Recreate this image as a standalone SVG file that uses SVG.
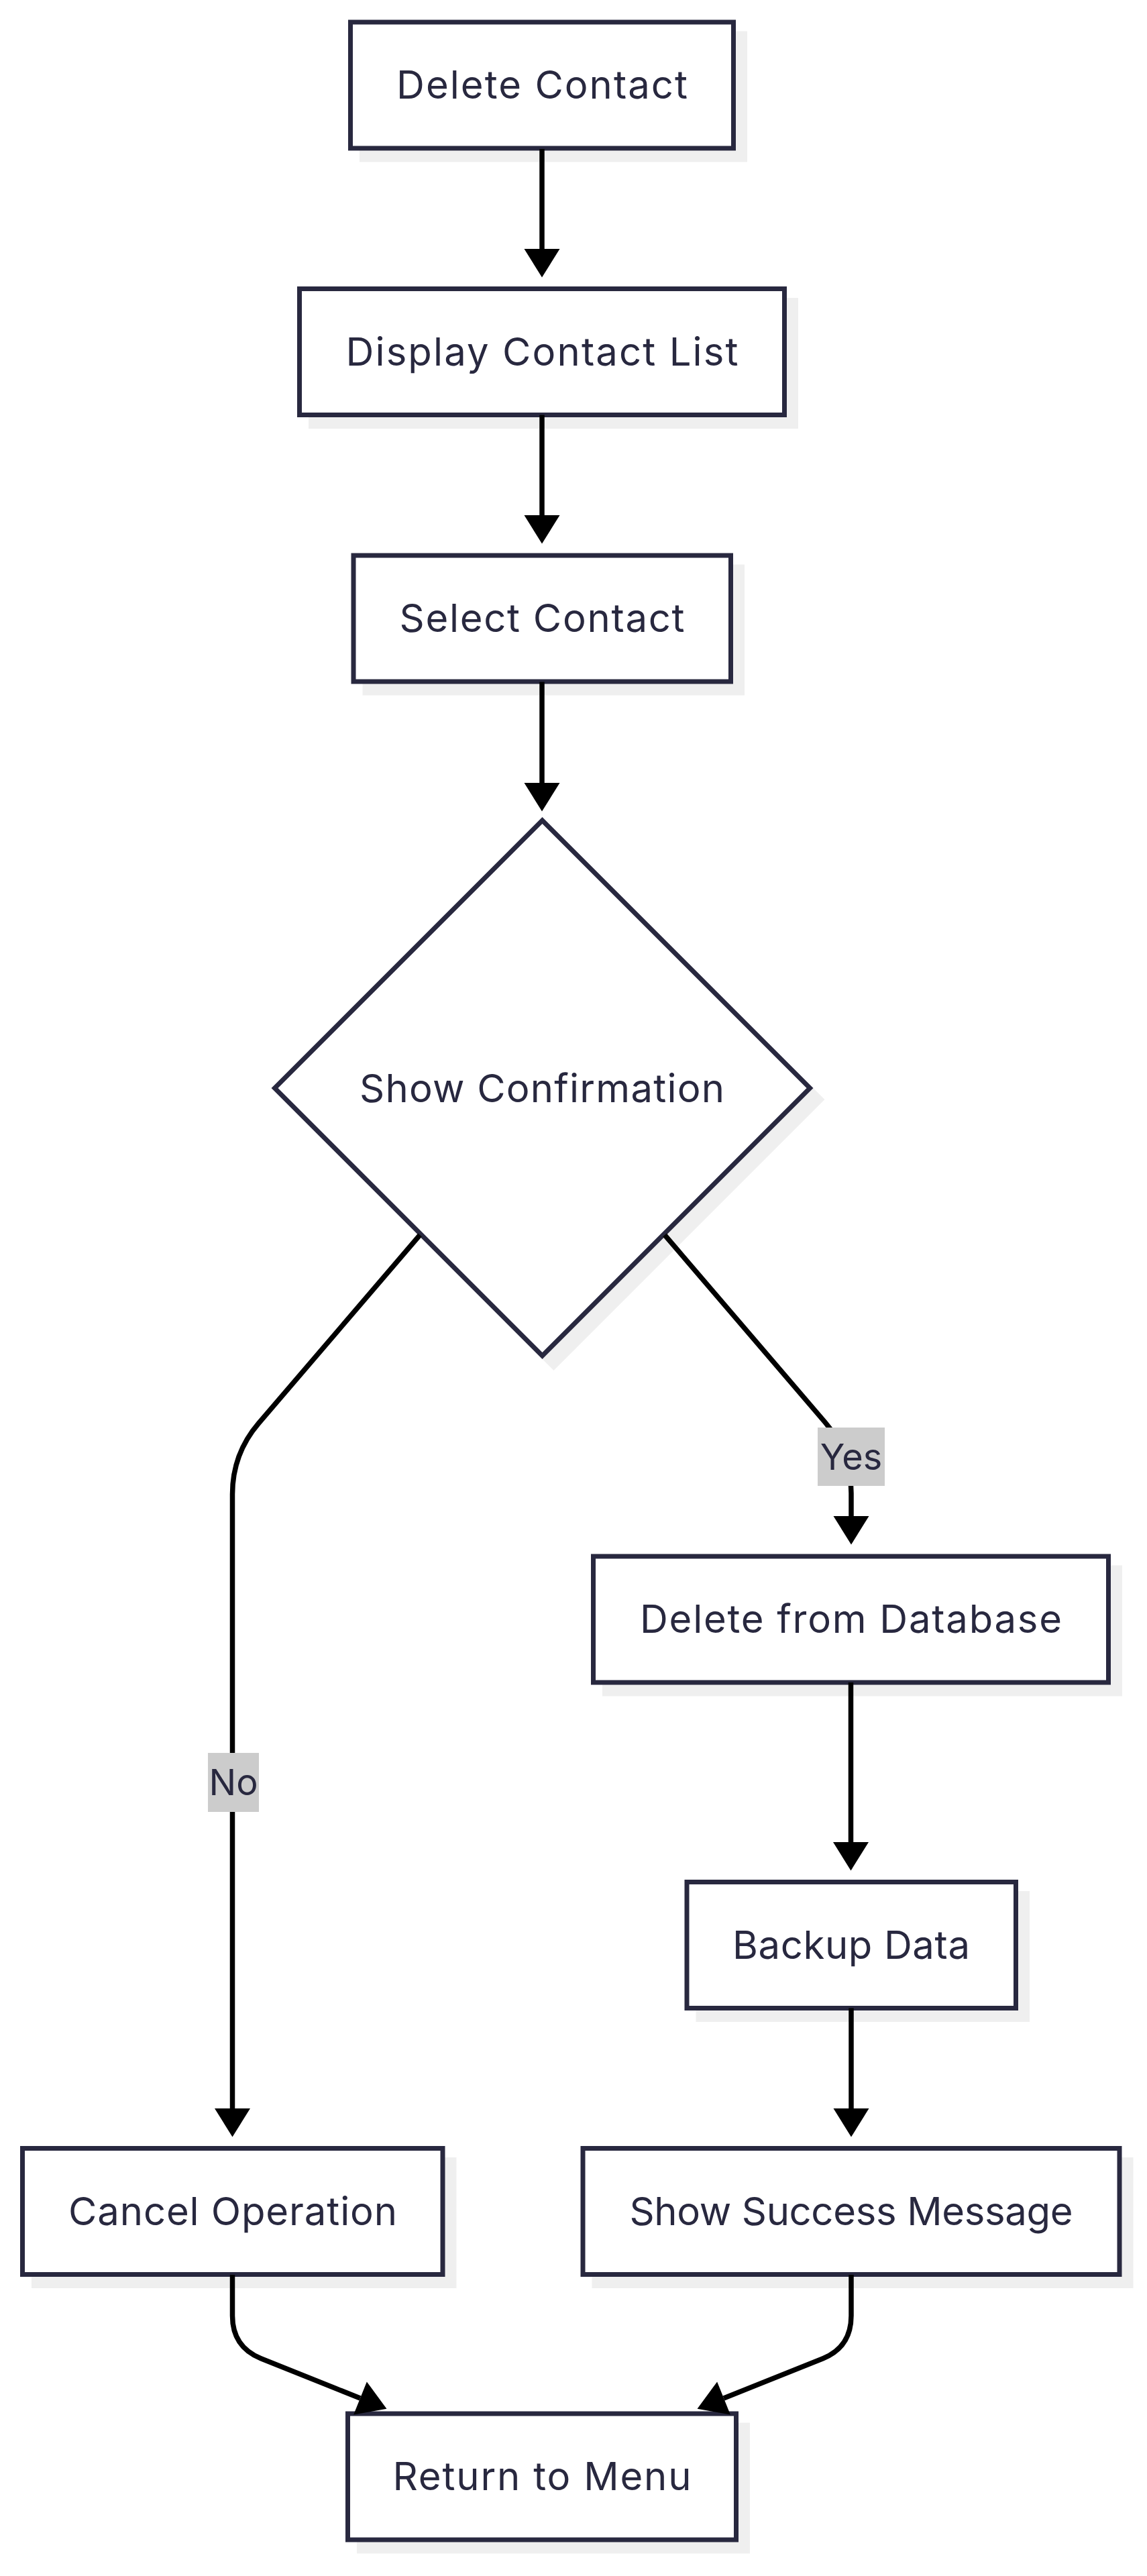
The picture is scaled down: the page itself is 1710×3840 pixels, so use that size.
<svg xmlns="http://www.w3.org/2000/svg" width="1710" height="3840" viewBox="0 0 1710 3840">
<defs>
<style>
.bg{fill:#ffffff}
.shadow{fill:#efefef;stroke:#efefef;stroke-width:7}
.box{fill:#ffffff;stroke:#28283f;stroke-width:7}
.lbl{font-family:Inter,"Noto Sans","Liberation Sans",sans-serif;font-size:58px;fill:#28283f;text-anchor:middle}
.elbl{font-family:Inter,"Noto Sans","Liberation Sans",sans-serif;font-size:54px;fill:#28283f;text-anchor:middle}
.edge{fill:none;stroke:#000000;stroke-width:7.5}
.ebg{fill:#cccccc}
</style>
<marker id="arrow" markerUnits="userSpaceOnUse" markerWidth="44" markerHeight="54" refX="0" refY="26.5" orient="auto" overflow="visible">
<path d="M0,0 L42.5,26.5 L0,53 z" fill="#000000"/>
</marker>
</defs>
<rect class="bg" x="0" y="0" width="1710" height="3840"/>

<g id="node-delete-contact">
<rect class="shadow" x="539.5" y="50" width="571" height="188"/>
<rect class="box" x="522.5" y="33" width="571" height="188"/>
<text class="lbl" x="808" y="147" textLength="434" lengthAdjust="spacing">Delete Contact</text>
</g>

<g id="node-display-list">
<rect class="shadow" x="463.5" y="447.5" width="723" height="188"/>
<rect class="box" x="446.5" y="430.5" width="723" height="188"/>
<text class="lbl" x="808" y="545" textLength="585" lengthAdjust="spacing">Display Contact List</text>
</g>

<g id="node-select-contact">
<rect class="shadow" x="544" y="845" width="562.5" height="188"/>
<rect class="box" x="527" y="828" width="562.5" height="188"/>
<text class="lbl" x="808" y="942" textLength="425" lengthAdjust="spacing">Select Contact</text>
</g>

<g id="node-show-confirmation">
<polygon class="shadow" points="825.5,1240 1224.5,1639 825.5,2038 426.5,1639"/>
<polygon class="box" points="808.5,1223 1207.5,1622 808.5,2021 409.5,1622"/>
<text class="lbl" x="808" y="1643" textLength="544" lengthAdjust="spacing">Show Confirmation</text>
</g>

<g id="node-delete-db">
<rect class="shadow" x="901.5" y="2337" width="768" height="188"/>
<rect class="box" x="884.5" y="2320" width="768" height="188"/>
<text class="lbl" x="1268.5" y="2434" textLength="629" lengthAdjust="spacing">Delete from Database</text>
</g>

<g id="node-backup">
<rect class="shadow" x="1041" y="2822.5" width="490.5" height="188"/>
<rect class="box" x="1024" y="2805.5" width="490.5" height="188"/>
<text class="lbl" x="1269" y="2920" textLength="354" lengthAdjust="spacing">Backup Data</text>
</g>

<g id="node-cancel">
<rect class="shadow" x="50.5" y="3219.5" width="626.5" height="188"/>
<rect class="box" x="33.5" y="3202.5" width="626.5" height="188"/>
<text class="lbl" x="347" y="3317" textLength="490" lengthAdjust="spacing">Cancel Operation</text>
</g>

<g id="node-success">
<rect class="shadow" x="886" y="3219.5" width="800" height="188"/>
<rect class="box" x="869" y="3202.5" width="800" height="188"/>
<text class="lbl" x="1269" y="3317" textLength="661" lengthAdjust="spacing">Show Success Message</text>
</g>

<g id="node-return">
<rect class="shadow" x="535.5" y="3615" width="579" height="188"/>
<rect class="box" x="518.5" y="3598" width="579" height="188"/>
<text class="lbl" x="808" y="3712" textLength="445" lengthAdjust="spacing">Return to Menu</text>
</g>

<g id="connectors">
<path class="edge" d="M808,222 V371" marker-end="url(#arrow)"/>
<path class="edge" d="M808,618.5 V768" marker-end="url(#arrow)"/>
<path class="edge" d="M808,1016.5 V1167" marker-end="url(#arrow)"/>
<path class="edge" d="M626,1841 L385.5,2121.8 Q346.5,2167.4 346.5,2227.4 V3143" marker-end="url(#arrow)"/>
<path class="edge" d="M991,1841 L1230,2120.1 Q1269,2165.7 1269,2225.7 V2260" marker-end="url(#arrow)"/>
<path class="edge" d="M1268.5,2508 V2746" marker-end="url(#arrow)"/>
<path class="edge" d="M1269,2993.5 V3143" marker-end="url(#arrow)"/>
<path class="edge" d="M346.5,3391 V3452 Q346.5,3498.6 389,3515.7 L537,3575" marker-end="url(#arrow)"/>
<path class="edge" d="M1269,3391 V3452 Q1269,3498.6 1227,3515.7 L1079,3575" marker-end="url(#arrow)"/>
<g id="label-no">
<rect class="ebg" x="310" y="2613" width="76" height="88"/>
<text class="elbl" x="348" y="2676">No</text>
</g>
<g id="label-yes">
<rect class="ebg" x="1219" y="2128" width="100" height="87"/>
<text class="elbl" x="1269" y="2191">Yes</text>
</g>
</g>
</svg>
